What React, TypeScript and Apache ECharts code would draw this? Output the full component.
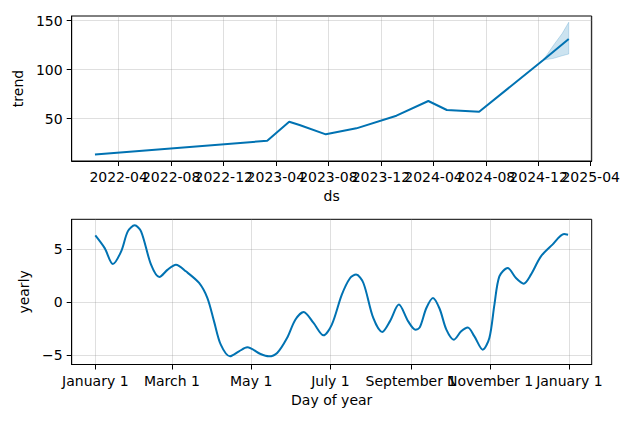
import React, { useEffect, useRef } from "react";
import * as echarts from "echarts";

// ---- Trend panel data ----
const trendDates = [
  "2022-02-05", "2023-03-12", "2023-05-02", "2023-05-26", "2023-07-26", "2023-10-05",
  "2024-01-06", "2024-03-20", "2024-05-02", "2024-07-16", "2024-12-12", "2025-02-09",
];
const trendValues = [13.5, 27.4, 46.8, 43.5, 34.0, 40.1, 53.0, 68.0, 58.8, 57.0, 109.8, 131.2];

const bandDates = ["2024-12-12", "2025-01-05", "2025-01-25", "2025-02-09"];
const bandLower = [109.8, 111.5, 114.2, 115.9];
const bandUpper = [109.8, 125.1, 137.0, 148.3];

const trendTickMonths = [
  "2022-04", "2022-08", "2022-12", "2023-04", "2023-08", "2023-12",
  "2024-04", "2024-08", "2024-12", "2025-04",
];
const trendYTicks = [50, 100, 150];

// ---- Yearly panel data ----
const yearlyDays = [
  0, 7.2, 13.5, 19.9, 25, 30.3, 35.2, 42.9, 49.3, 55.7, 62.1, 69.7, 79.9, 86.3, 91.4, 96.6,
  103.7, 110.6, 117, 127.2, 133.6, 140, 147.6, 154, 160.4, 168, 175.7, 182.1, 189.8, 196.2,
  200.8, 206.4, 214, 220.9, 226.8, 233.7, 240.9, 246.5, 249.8, 254.9, 260, 265.1, 270.3,
  276.1, 281.7, 286.8, 291.9, 298.3, 303.4, 307.3, 311.1, 317.5, 323.9, 329.8, 335.4,
  343.1, 352, 360.9, 364,
];
const yearlyValues = [
  6.28, 5.08, 3.58, 4.78, 6.66, 7.23, 6.66, 3.52, 2.35, 3.05, 3.52, 2.89, 1.79, 0.36, -1.83,
  -4.03, -5.13, -4.66, -4.28, -4.91, -5.13, -4.81, -3.4, -1.67, -0.94, -1.98, -3.15, -2.14,
  0.69, 2.26, 2.58, 1.79, -1.51, -2.83, -1.83, -0.25, -1.83, -2.61, -2.4, -0.57, 0.38, -0.64,
  -2.61, -3.56, -2.77, -2.4, -3.25, -4.5, -3.4, -0.25, 2.42, 3.21, 2.26, 1.73, 2.58, 4.3,
  5.41, 6.41, 6.35,
];
const dayTickValues = [0, 59, 120, 181, 243, 304, 365];
const dayTickLabels = [
  "January 1", "March 1", "May 1", "July 1", "September 1", "November 1", "January 1",
];
const yearlyYTicks = [-5, 0, 5];

const toTs = (s: string) => Date.parse(s + "T00:00:00Z");

const FONT = "DejaVu Sans";
const BLUE = "#0072B2";
const GRIDLINE = "rgba(150,150,150,0.3)";

export default function App() {
  const ref = useRef<HTMLDivElement>(null);

  useEffect(() => {
    if (!ref.current) return;
    const chart = echarts.init(ref.current, null, { renderer: "svg" });

    const axisCommon = {
      axisLine: { show: true, onZero: false, lineStyle: { color: "#000", width: 1 } },
      axisTick: { show: true, length: 5, lineStyle: { color: "#000", width: 1 } },
      splitLine: { show: true, lineStyle: { color: GRIDLINE, width: 1 } },
      nameTextStyle: { fontFamily: FONT, fontSize: 14, color: "#000" },
    };
    const labelCommon = {
      fontFamily: FONT, fontSize: 14, color: "#000", margin: 9,
      showMinLabel: true, showMaxLabel: true, hideOverlap: false,
    };

    const monthTs = trendTickMonths.map((m) => toTs(m + "-01"));
    const monthEven = monthTs.filter((_, i) => i % 2 === 0);
    const monthOdd = monthTs.filter((_, i) => i % 2 === 1);
    const dayEven = dayTickValues.filter((_, i) => i % 2 === 0);
    const dayOdd = dayTickValues.filter((_, i) => i % 2 === 1);

    const fmtMonth = (v: number) => {
      const d = new Date(v);
      return `${d.getUTCFullYear()}-${String(d.getUTCMonth() + 1).padStart(2, "0")}`;
    };
    const fmtDay = (v: number) => {
      const i = dayTickValues.indexOf(Math.round(v));
      return i >= 0 ? dayTickLabels[i] : "";
    };

    const tMin = Date.UTC(2021, 11, 13);
    const tMax = Date.UTC(2025, 3, 3, 8);
    const dMin = -18.2;
    const dMax = 382.2;

    const labelOnlyAxis = (gridIndex: number, min: number, max: number, values: number[], fmt: any) => ({
      type: "value",
      gridIndex,
      position: "bottom",
      min,
      max,
      axisLine: { show: false, onZero: false },
      axisTick: { show: false },
      splitLine: { show: false },
      axisLabel: { ...labelCommon, customValues: values, formatter: fmt },
    });

    const bandPts = bandDates.map((d, i) => [toTs(d), bandLower[i], bandUpper[i]]);

    const option: any = {
      animation: false,
      backgroundColor: "#fff",
      grid: [
        {
          left: 71.7, right: 42.3, top: 16, height: 145,
          show: true, borderColor: "#000", borderWidth: 1, backgroundColor: "transparent",
        },
        {
          left: 71.7, right: 42.3, top: 219.3, height: 145.2,
          show: true, borderColor: "#000", borderWidth: 1, backgroundColor: "transparent",
        },
      ],
      xAxis: [
        {
          ...axisCommon,
          type: "value",
          gridIndex: 0,
          position: "bottom",
          min: tMin,
          max: tMax,
          name: "ds",
          nameLocation: "middle",
          nameGap: 28,
          axisTick: { ...axisCommon.axisTick, customValues: monthTs },
          splitLine: { ...axisCommon.splitLine },
          axisLabel: { ...labelCommon, customValues: monthEven, formatter: fmtMonth },
        },
        {
          ...axisCommon,
          type: "value",
          gridIndex: 1,
          position: "bottom",
          min: dMin,
          max: dMax,
          name: "Day of year",
          nameLocation: "middle",
          nameGap: 28,
          axisTick: { ...axisCommon.axisTick, customValues: dayTickValues },
          axisLabel: { ...labelCommon, customValues: dayEven, formatter: fmtDay },
        },
        labelOnlyAxis(0, tMin, tMax, monthOdd, fmtMonth),
        labelOnlyAxis(1, dMin, dMax, dayOdd, fmtDay),
      ],
      yAxis: [
        {
          ...axisCommon,
          type: "value",
          gridIndex: 0,
          min: 6.8,
          max: 154.7,
          name: "trend",
          nameLocation: "middle",
          nameGap: 37,
          axisTick: { ...axisCommon.axisTick, customValues: trendYTicks },
          axisLabel: { ...labelCommon, customValues: trendYTicks },
        },
        {
          ...axisCommon,
          type: "value",
          gridIndex: 1,
          min: -5.9,
          max: 7.8,
          name: "yearly",
          nameLocation: "middle",
          nameGap: 30,
          axisTick: { ...axisCommon.axisTick, customValues: yearlyYTicks },
          axisLabel: {
            ...labelCommon,
            customValues: yearlyYTicks,
            formatter: (v: number) => (v < 0 ? "\u2212" + Math.abs(v) : String(v)),
          },
        },
      ],
      series: [
        {
          type: "custom",
          xAxisIndex: 0,
          yAxisIndex: 0,
          data: bandPts,
          clip: true,
          z: 2,
          renderItem: (params: any, api: any) => {
            if (params.dataIndex !== 0) return null;
            const upper = bandPts.map((p) => api.coord([p[0], p[2]]));
            const lower = bandPts.map((p) => api.coord([p[0], p[1]])).reverse();
            return {
              type: "polygon",
              shape: { points: upper.concat(lower) },
              style: { fill: "rgba(0,114,178,0.2)", stroke: "rgba(0,114,178,0.2)", lineWidth: 1 },
            };
          },
        },
        {
          type: "line",
          xAxisIndex: 0,
          yAxisIndex: 0,
          symbol: "none",
          data: trendDates.map((d, i) => [toTs(d), trendValues[i]]),
          lineStyle: { color: BLUE, width: 2 },
          z: 3,
        },
        {
          type: "line",
          xAxisIndex: 1,
          yAxisIndex: 1,
          symbol: "none",
          smooth: 0.3,
          data: yearlyDays.map((d, i) => [d, yearlyValues[i]]),
          lineStyle: { color: BLUE, width: 2 },
          z: 3,
        },
      ],
    };

    chart.setOption(option);
    return () => chart.dispose();
  }, []);

  return (
    <div
      ref={ref}
      style={{ position: "fixed", left: 0, top: 0, width: 634, height: 422 }}
    />
  );
}
